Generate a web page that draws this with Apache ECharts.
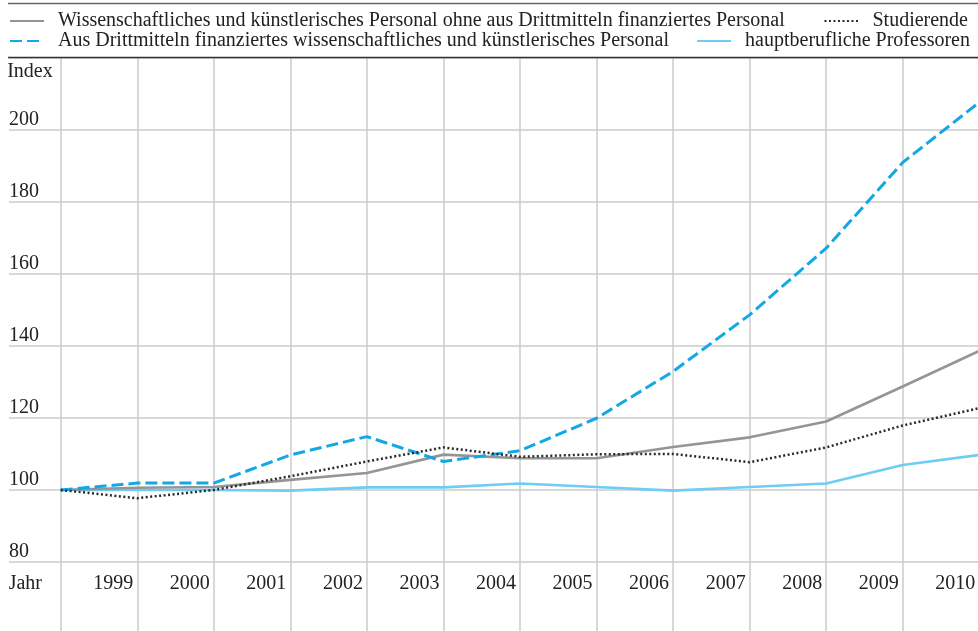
<!DOCTYPE html>
<html>
<head>
<meta charset="utf-8">
<script src="https://cdn.jsdelivr.net/npm/echarts@6/dist/echarts.min.js"></script>
<style>
html,body{margin:0;padding:0;background:#fff;}
#chart{width:978px;height:631px;}
</style>
</head>
<body>
<div id="chart"></div>
<script>
var years = ['1998','1999','2000','2001','2002','2003','2004','2005','2006','2007','2008','2009','2010'];
var personal = [100, 100.6, 100.8, 102.8, 104.7, 109.8, 108.8, 108.8, 111.9, 114.6, 119.0, 128.7, 138.6];
var drittmittel = [100, 101.9, 101.9, 109.7, 114.8, 107.9, 110.9, 119.9, 132.9, 148.6, 167.1, 190.9, 207.6];
var studierende = [100, 97.7, 100.0, 103.8, 107.9, 111.8, 109.2, 109.9, 110.0, 107.7, 111.8, 117.9, 122.7];
var professoren = [100, 100, 100, 99.8, 100.7, 100.7, 101.8, 100.8, 99.8, 100.8, 101.8, 106.9, 109.7];
var names = [
  'Wissenschaftliches und künstlerisches Personal ohne aus Drittmitteln finanziertes Personal',
  'Aus Drittmitteln finanziertes wissenschaftliches und künstlerisches Personal',
  'Studierende',
  'hauptberufliche Professoren'
];
var FONT = 'Liberation Serif';
var FS = 20;
var GRID = '#cbcbcb';
var chart = echarts.init(document.getElementById('chart'), null, {renderer:'canvas'});
var legendBase = {
  orient:'horizontal', padding:0, itemWidth:34, itemHeight:14,
  itemStyle:{opacity:0},
  textStyle:{fontFamily:FONT, fontSize:FS, color:'#222', padding:[0,0,0,9]},
  selectedMode:false
};
function lg(o){ return Object.assign({}, legendBase, o); }
chart.setOption({
  animation:false,
  backgroundColor:'#fff',
  textStyle:{fontFamily:FONT},
  legend:[
    lg({data:[names[0]], left:9, top:11}),
    lg({data:[names[1]], left:9, top:31}),
    lg({data:[names[2]], right:10, top:11}),
    lg({data:[names[3]], right:8, top:31})
  ],
  grid:{left:60.7, width:918.6, top:57.6, bottom:69, containLabel:false, outerBoundsMode:'none'},
  xAxis:{
    type:'category', data:years, boundaryGap:false,
    name:'Jahr', nameLocation:'start', nameGap:18.7,
    nameTextStyle:{fontFamily:FONT, fontSize:FS, color:'#222', verticalAlign:'top', lineHeight:44},
    axisLine:{show:false},
    axisTick:{show:true, interval:0, length:69, lineStyle:{color:GRID, width:1.5}},
    splitLine:{show:true, interval:0, lineStyle:{color:GRID, width:1.5}},
    axisLabel:{interval:0, fontFamily:FONT, fontSize:FS, color:'#222', align:'right', verticalAlign:'middle', margin:22, padding:[0,4,0,0],
      formatter:function(v,i){ return i===0 ? '' : v; }}
  },
  yAxis:{
    type:'value', min:80, max:220, interval:20,
    name:'Index', nameLocation:'end', nameGap:-24,
    nameTextStyle:{fontFamily:FONT, fontSize:FS, color:'#222', align:'right', verticalAlign:'bottom', padding:[0,8,0,0]},
    axisLine:{show:false},
    axisTick:{show:true, length:51.7, lineStyle:{color:GRID, width:1.5}},
    splitLine:{show:true, lineStyle:{color:GRID, width:1.5}},
    axisLabel:{fontFamily:FONT, fontSize:FS, color:'#222', align:'left', verticalAlign:'bottom', margin:51.7,
      formatter:function(v){ return v===220 ? '' : String(v); }}
  },
  graphic:[
    {type:'line', z:100, shape:{x1:8, y1:3.5, x2:978, y2:3.5}, style:{stroke:'#666', lineWidth:1.5}},
    {type:'line', z:100, shape:{x1:8, y1:57.5, x2:978, y2:57.5}, style:{stroke:'#333', lineWidth:1.5}}
  ],
  series:[
    {name:names[0], type:'line', data:personal, symbol:'none', lineStyle:{color:'#959595', width:2.6}, itemStyle:{color:'#959595'}, z:3},
    {name:names[1], type:'line', data:drittmittel, symbol:'none', lineStyle:{color:'#12a8e6', width:3, type:[12,5]}, itemStyle:{color:'#12a8e6'}, z:4},
    {name:names[2], type:'line', data:studierende, symbol:'none', lineStyle:{color:'#2a2a2a', width:2.5, type:[2,2.5]}, itemStyle:{color:'#2a2a2a'}, z:5},
    {name:names[3], type:'line', data:professoren, symbol:'none', lineStyle:{color:'#6fcdf3', width:2.6}, itemStyle:{color:'#6fcdf3'}, z:2}
  ]
});
</script>
</body>
</html>
